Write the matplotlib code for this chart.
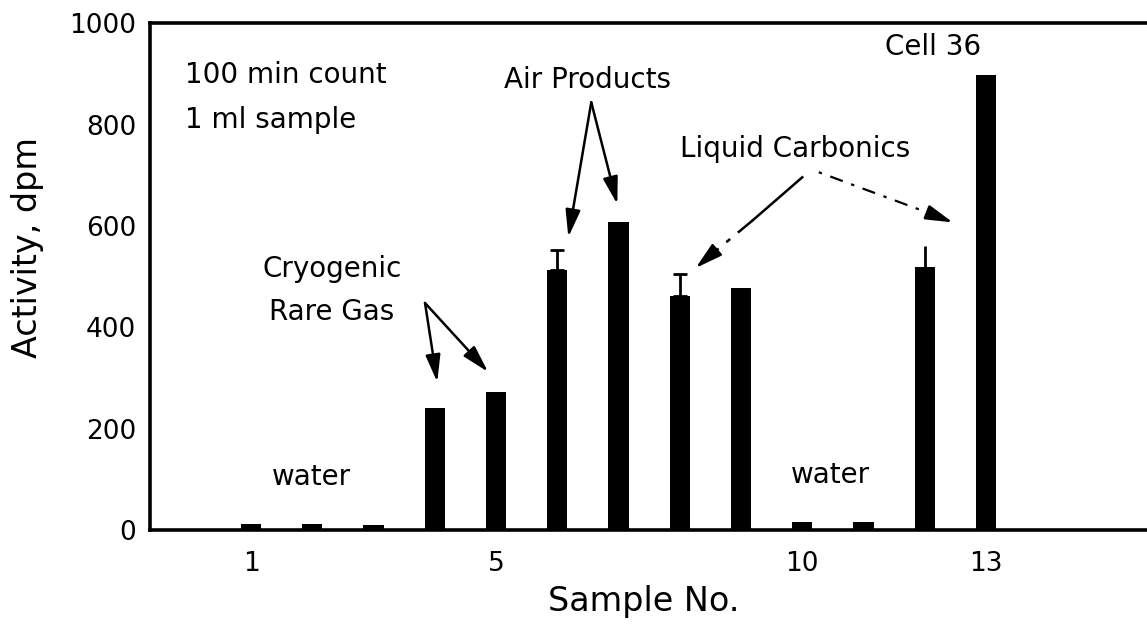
import matplotlib
matplotlib.use("Agg")
import matplotlib.pyplot as plt

# sample numbers and measured activity (dpm)
samples = [1, 2, 3, 4, 5, 6, 7, 8, 9, 10, 11, 12, 13]
activity = [12, 12, 10, 241, 272, 513, 607, 462, 477, 15, 16, 519, 897]

# upper error bars (with cap / without cap)
err_capped_x = [6, 8]
err_capped_y = [513, 462]
err_capped_hi = [39, 43]
err_plain_x = [12]
err_plain_y = [519]
err_plain_hi = [41]

x_ticks = [1, 5, 10, 13]
y_ticks = [0, 200, 400, 600, 800, 1000]

plt.rcParams['font.family'] = ['DejaVu Sans']

fig = plt.figure(figsize=(11.47, 6.28), dpi=100)
ax = fig.add_axes([0.1308, 0.156, 0.889, 0.807])

ax.bar(samples, activity, width=0.33, color="black")
ax.errorbar(err_capped_x, err_capped_y, yerr=[[0] * len(err_capped_hi), err_capped_hi],
            fmt="none", ecolor="black", elinewidth=2, capsize=5, capthick=2)
ax.errorbar(err_plain_x, err_plain_y, yerr=[[0] * len(err_plain_hi), err_plain_hi],
            fmt="none", ecolor="black", elinewidth=2, capsize=0)

ax.set_xlim(-0.65, 16.0)
ax.set_ylim(0, 1000)
ax.set_xticks(x_ticks)
ax.set_yticks(y_ticks)
ax.tick_params(length=0, labelsize=19)
ax.tick_params(axis="y", pad=10)
ax.tick_params(axis="x", pad=15)
for side in ["top", "left", "bottom"]:
    ax.spines[side].set_linewidth(2.6)
ax.spines["right"].set_visible(False)

fig.text(644 / 1147, 1 - 601 / 628, "Sample No.", fontsize=24, ha="center", va="center")
fig.text(28 / 1147, 1 - 248 / 628, "Activity, dpm", fontsize=24, rotation=90,
         ha="center", va="center")

fs = 20
ax.text(-0.085, 882, "100 min count", fontsize=fs, ha="left", va="baseline")
ax.text(-0.085, 793, "1 ml sample", fontsize=fs, ha="left", va="baseline")
ax.text(6.49, 872, "Air Products", fontsize=fs, ha="center", va="baseline")
ax.text(12.13, 937, "Cell 36", fontsize=fs, ha="center", va="baseline")
ax.text(9.89, 736, "Liquid Carbonics", fontsize=fs, ha="center", va="baseline")
ax.text(2.32, 499, "Cryogenic", fontsize=fs, ha="center", va="baseline")
ax.text(2.32, 414, "Rare Gas", fontsize=fs, ha="center", va="baseline")
ax.text(1.98, 89, "water", fontsize=fs, ha="center", va="baseline")
ax.text(10.46, 92, "water", fontsize=fs, ha="center", va="baseline")

head = "-|>,head_length=1.1,head_width=0.3"
solid = dict(arrowstyle=head, color="black", lw=1.8, mutation_scale=15,
             shrinkA=0, shrinkB=0)
ax.annotate("", xy=(4.04, 292), xytext=(3.84, 448), arrowprops=solid)
ax.annotate("", xy=(4.87, 312), xytext=(3.84, 448), arrowprops=solid)
ax.annotate("", xy=(6.18, 578), xytext=(6.555, 844), arrowprops=solid)
ax.annotate("", xy=(6.98, 643), xytext=(6.555, 844), arrowprops=solid)

# Liquid Carbonics: broken lines, solid heads
ax.plot([10.0, 9.2], [696, 612], color="black", lw=1.8)
ax.plot([9.2, 8.5], [612, 542], color="black", lw=1.8, linestyle=(0, (8, 4, 2, 4)))
ax.annotate("", xy=(8.26, 517), xytext=(8.5, 542), arrowprops=solid)
ax.plot([10.27, 12.1], [706, 624], color="black", lw=1.6, linestyle=(0, (1.5, 4, 6, 4)))
ax.annotate("", xy=(12.46, 607), xytext=(12.1, 624), arrowprops=solid)

fig.savefig("out.png", dpi=100)
